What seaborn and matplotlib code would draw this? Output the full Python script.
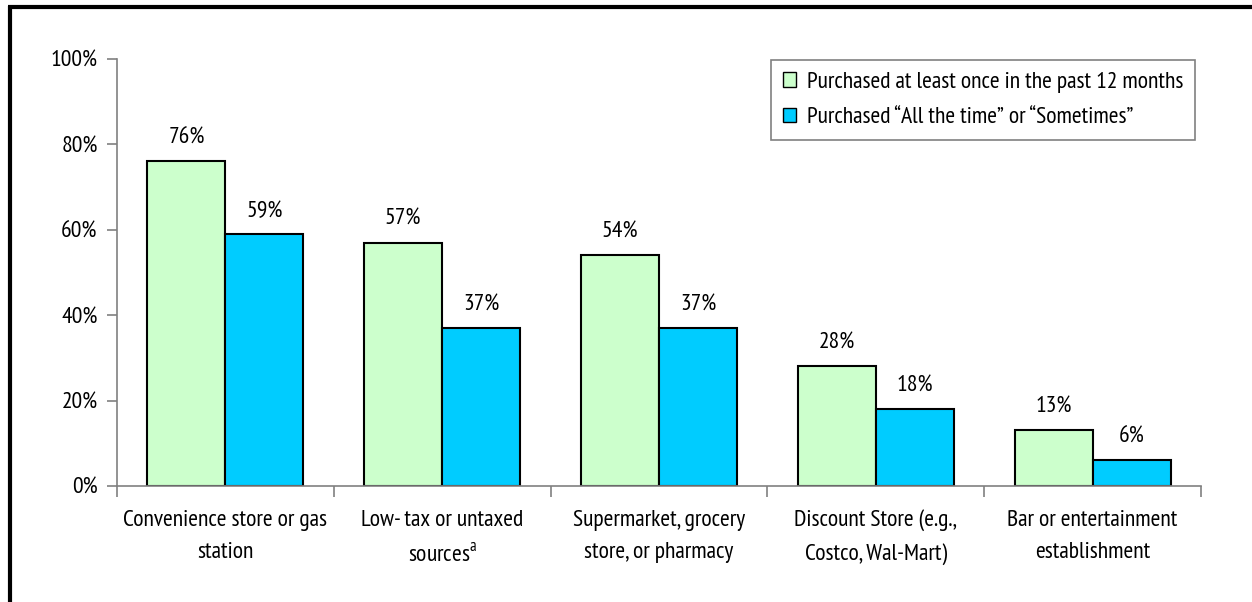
import matplotlib
matplotlib.use("Agg")
import matplotlib.pyplot as plt
from matplotlib.lines import Line2D
from matplotlib.ticker import FixedLocator, PercentFormatter
import seaborn as sns
import pandas as pd

# Where cigarettes were bought, share of respondents (%)
categories = [
    "Convenience store or gas\nstation",
    "Low- tax or untaxed\nsources$^\\mathregular{a}$",
    "Supermarket, grocery\nstore, or pharmacy",
    "Discount Store (e.g.,\nCostco, Wal-Mart)",
    "Bar or entertainment\nestablishment",
]
series_names = [
    "Purchased at least once in the past 12 months",
    "Purchased \u201cAll the time\u201d or \u201cSometimes\u201d",
]
past_12_months = [76, 57, 54, 28, 13]
all_or_sometimes = [59, 37, 37, 18, 6]
y_ticks = [0, 20, 40, 60, 80, 100]

colors = ["#CCFFCC", "#00CCFF"]
FS = 17

sns.set_theme(style="white")
plt.rcParams["font.family"] = ["PT Sans Narrow", "DejaVu Sans"]
plt.rcParams["mathtext.fontset"] = "custom"
plt.rcParams["mathtext.rm"] = "PT Sans Narrow"

df = pd.DataFrame({
    "category": categories * 2,
    "series": [series_names[0]] * len(categories) + [series_names[1]] * len(categories),
    "value": past_12_months + all_or_sometimes,
})

fig = plt.figure(figsize=(12.52, 6.02), dpi=100)
ax = fig.add_axes([117 / 1252, 116 / 602, (1201 - 117) / 1252, (486 - 59) / 602])

sns.barplot(
    data=df, x="category", y="value", hue="series",
    order=categories, hue_order=series_names, palette=colors,
    width=0.72, gap=0, edgecolor="black", linewidth=1.5,
    saturation=1, ax=ax, legend=True,
)

for container in ax.containers:
    ax.bar_label(container, labels=[f"{v:.0f}%" for v in container.datavalues],
                 padding=9, fontsize=FS, color="black")

ax.set_ylim(0, 100)
ax.set_xlim(-0.5, len(categories) - 0.5)
ax.set_yticks(y_ticks)
ax.yaxis.set_major_formatter(PercentFormatter(decimals=0))
ax.set_xlabel("")
ax.set_ylabel("")

# Category labels centred, tick marks on the boundaries between groups
ax.xaxis.set_minor_locator(FixedLocator([i - 0.5 for i in range(len(categories) + 1)]))
ax.tick_params(axis="x", which="major", length=0, pad=17, labelsize=FS, labelcolor="black")
ax.tick_params(axis="x", which="minor", length=8, width=1.2, color="#808080", direction="out", bottom=True)
ax.tick_params(axis="y", which="major", length=7, width=1.2, color="#808080", direction="out",
               left=True, pad=7, labelsize=FS, labelcolor="black")
for lbl in ax.get_xticklabels():
    lbl.set_linespacing(1.72)

for side in ["top", "right"]:
    ax.spines[side].set_visible(False)
for side in ["left", "bottom"]:
    ax.spines[side].set_color("#808080")
    ax.spines[side].set_linewidth(1.2)

leg = ax.legend(
    loc="upper right", bbox_to_anchor=(1195 / 1252, 542 / 602), bbox_transform=fig.transFigure,
    fontsize=FS, frameon=True, fancybox=False, edgecolor="#606060",
    handlelength=0.55, handleheight=0.55, handletextpad=0.45, borderpad=0.5, labelspacing=0.62,
    borderaxespad=0,
)
leg.get_frame().set_linewidth(1.2)
for t in leg.get_texts():
    t.set_color("black")
for h in leg.legend_handles:
    h.set_edgecolor("black")
    h.set_linewidth(1.0)

# Frame lines along the top and left edges of the figure
fig.add_artist(Line2D([8 / 1252, 1], [595 / 602, 595 / 602], transform=fig.transFigure,
                      color="black", linewidth=3, solid_capstyle="butt"))
fig.add_artist(Line2D([9.5 / 1252, 9.5 / 1252], [0, 596.5 / 602], transform=fig.transFigure,
                      color="black", linewidth=3, solid_capstyle="butt"))

fig.savefig("out.png", dpi=100, facecolor="white")
